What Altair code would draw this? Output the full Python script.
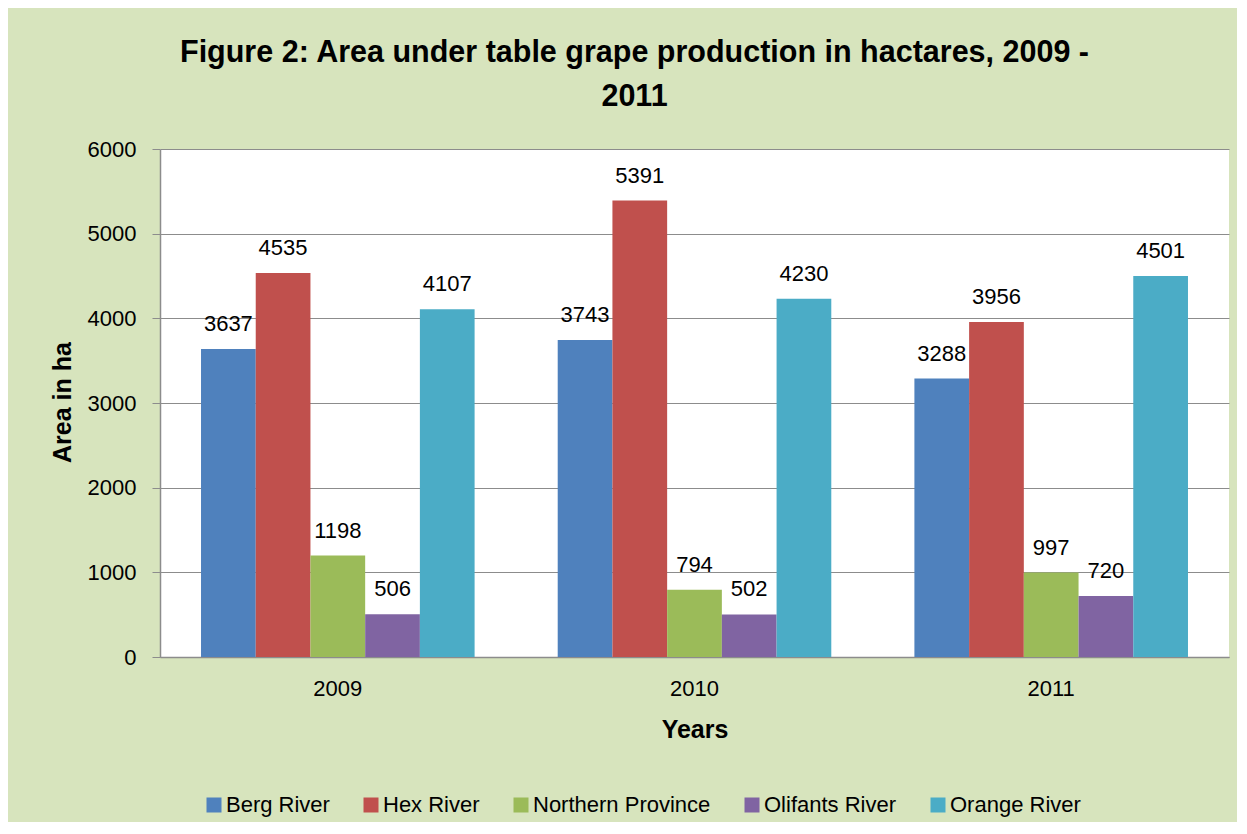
import altair as alt
import pandas as pd

years = ["2009", "2010", "2011"]
regions = ["Berg River", "Hex River", "Northern Province", "Olifants River", "Orange River"]
berg = [3637, 3743, 3288]
hex_river = [4535, 5391, 3956]
northern = [1198, 794, 997]
olifants = [506, 502, 720]
orange = [4107, 4230, 4501]
colors = ["#4F81BD", "#C0504D", "#9BBB59", "#8064A2", "#4BACC6"]
y_ticks = [0, 1000, 2000, 3000, 4000, 5000, 6000]

series = [berg, hex_river, northern, olifants, orange]
rows = []
for r, vals in zip(regions, series):
    for y, v in zip(years, vals):
        rows.append({"Year": y, "Region": r, "Area": v})
df = pd.DataFrame(rows)

FONT = "Liberation Sans, Arial, sans-serif"
GRAY = "#8C8C8C"
FS = 22

base = alt.Chart(df).encode(
    x=alt.X(
        "Year:N",
        sort=years,
        scale=alt.Scale(paddingInner=0.233, paddingOuter=0.115),
        axis=alt.Axis(
            title="Years",
            labelAngle=0,
            ticks=False,
            labelPadding=21,
            labelFontSize=FS,
            labelFont=FONT,
            labelColor="black",
            domainColor=GRAY,
            domainWidth=1.5,
            grid=False,
            titleFont=FONT,
            titleFontSize=25,
            titleFontWeight="bold",
            titleColor="black",
            titleY=72,
            titleBaseline="middle",
        ),
    ),
    xOffset=alt.XOffset("Region:N", sort=regions, scale=alt.Scale(paddingInner=0, paddingOuter=0)),
    y=alt.Y(
        "Area:Q",
        scale=alt.Scale(domain=[0, 6000], nice=False),
        axis=alt.Axis(
            title="Area in ha",
            values=y_ticks,
            format="d",
            tickSize=8,
            tickColor=GRAY,
            domainColor=GRAY,
            domainWidth=1.5,
            gridColor=GRAY,
            gridWidth=1.2,
            labelPadding=16,
            labelFontSize=FS,
            labelFont=FONT,
            labelColor="black",
            titleFont=FONT,
            titleFontSize=25,
            titleFontWeight="bold",
            titleColor="black",
            titleX=-98,
            titleY=253,
            titleAngle=-90,
            titleAlign="center",
            titleBaseline="middle",
        ),
    ),
)

bars = base.mark_bar().encode(
    color=alt.Color(
        "Region:N",
        sort=regions,
        scale=alt.Scale(domain=regions, range=colors),
        legend=alt.Legend(
            title=None,
            orient="none",
            direction="horizontal",
            columns=5,
            legendX=43,
            legendY=645,
            symbolType="square",
            symbolSize=225,
            symbolStrokeWidth=0,
            symbolOpacity=1,
            labelFont=FONT,
            labelFontSize=FS,
            labelColor="black",
            labelOffset=1,
            labelLimit=0,
            columnPadding=30,
        ),
    )
)

labels = base.mark_text(
    dy=-18, baseline="alphabetic", font=FONT, fontSize=FS, color="black"
).encode(text=alt.Text("Area:Q"))

chart = (
    alt.layer(bars, labels)
    .properties(
        width=1069,
        height=508,
        autosize=alt.AutoSizeParams(type="none"),
        padding={"left": 152, "top": 141, "right": 8, "bottom": 165},
        background="#D7E4BD",
        title=alt.TitleParams(
            ["Figure 2: Area under table grape production in hactares, 2009 -", "2011"],
            font=FONT,
            fontSize=30.5,
            fontWeight="bold",
            color="black",
            anchor="middle",
            dx=-60,
            offset=26,
            lineHeight=44,
        ),
    )
    .configure_view(fill="white", stroke=None)
)

chart.save("out.html", embed_options={"renderer": "svg", "actions": False})
